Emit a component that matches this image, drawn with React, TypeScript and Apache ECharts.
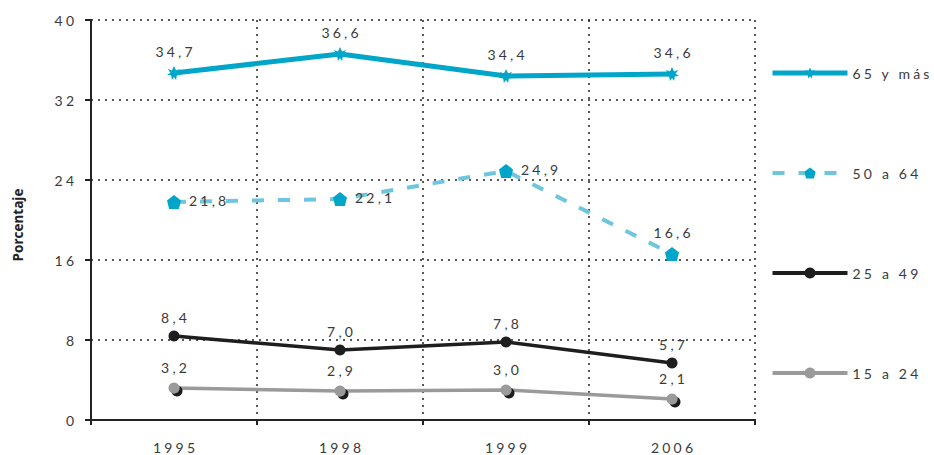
import React, { useEffect, useRef } from "react";
import * as echarts from "echarts";

const categories = ["1995", "1998", "1999", "2006"];
const yTicks = [0, 8, 16, 24, 32, 40];
const s65 = [34.7, 36.6, 34.4, 34.6];
const s50 = [21.8, 22.1, 24.9, 16.6];
const s25 = [8.4, 7.0, 7.8, 5.7];
const s15 = [3.2, 2.9, 3.0, 2.1];
const seriesNames = ["65 y más", "50 a 64", "25 a 49", "15 a 24"];

const fmt = (v: number) => v.toFixed(1).replace(".", ",");
const FONT = "Lato";
const SPACING = 3.2;

const starPath =
  "path://M0,-10 L3,-4 L9,-6 L5,-1 L10,2 L4,3 L3,9 L0,5 L-3,9 L-4,3 L-10,2 L-5,-1 L-9,-6 L-3,-4 Z";
const housePath = "path://M0,-10 L10,-3 L7,8 L-7,8 L-10,-3 Z";

function spaceTexts(root: HTMLElement) {
  const texts = root.querySelectorAll("svg text");
  texts.forEach((t) => {
    const el = t as SVGTextElement;
    if (el.getAttribute("data-spaced")) return;
    if ((el.textContent || "").trim() === "Porcentaje") return;
    el.style.letterSpacing = SPACING + "px";
    const anchor = el.getAttribute("text-anchor") || "start";
    const dx = anchor === "middle" ? SPACING / 2 : anchor === "end" ? SPACING : 0;
    if (dx) el.setAttribute("dx", String(dx));
    el.setAttribute("data-spaced", "1");
  });
}

export default function App() {
  const ref = useRef<HTMLDivElement>(null);
  useEffect(() => {
    if (!ref.current) return;
    const chart = echarts.init(ref.current, null, { renderer: "svg" });
    const label = {
      show: true,
      formatter: (p: any) => fmt(p.value),
      fontFamily: FONT,
      fontSize: 14,
      color: "#3a3a3a",
    };
    const legendWidths = [5, 4, 4, 4];
    chart.setOption({
      animation: false,
      backgroundColor: "#fff",
      grid: { left: 91, right: 179, top: 20, bottom: 35 },
      legend: {
        orient: "vertical",
        left: 770,
        top: 66,
        padding: 0,
        itemWidth: 75,
        itemHeight: 14,
        itemGap: 86,
        textStyle: { fontFamily: FONT, fontSize: 14, color: "#3a3a3a" },
        data: seriesNames.map((n, i) => ({ name: n, lineStyle: { width: legendWidths[i] } })),
      },
      xAxis: {
        type: "category",
        data: categories,
        boundaryGap: true,
        axisLine: { lineStyle: { color: "#222", width: 2 } },
        axisTick: { show: true, length: 5, lineStyle: { color: "#222", width: 2 } },
        axisLabel: {
          margin: 20,
          fontFamily: FONT,
          fontSize: 14,
          color: "#3a3a3a",
        },
        splitLine: {
          show: true,
          lineStyle: { color: "#222", type: [2, 5], width: 1.5 },
        },
      },
      yAxis: {
        type: "value",
        min: yTicks[0],
        max: yTicks[yTicks.length - 1],
        interval: 8,
        name: "Porcentaje",
        nameLocation: "middle",
        nameGap: 66,
        nameTextStyle: {
          fontFamily: "Open Sans",
          fontWeight: "bold",
          fontSize: 13.5,
          color: "#222",
          padding: [0, 10, 0, 0],
        },
        axisLine: { show: true, lineStyle: { color: "#222", width: 2 } },
        axisTick: { show: true, length: 6, lineStyle: { color: "#222", width: 2 } },
        axisLabel: {
          margin: 17,
          fontFamily: FONT,
          fontSize: 14,
          color: "#3a3a3a",
        },
        splitLine: {
          show: true,
          lineStyle: { color: "#222", type: [2, 5], width: 1.5 },
        },
      },
      series: [
        {
          name: seriesNames[0],
          type: "line",
          data: s65,
          symbol: starPath,
          symbolSize: 14,
          lineStyle: { color: "#00a6c9", width: 5 },
          itemStyle: { color: "#00a6c9" },
          label: { ...label, position: "top", distance: 8 },
          z: 4,
        },
        {
          name: seriesNames[1],
          type: "line",
          data: s50.map((v, i) =>
            i === s50.length - 1 ? { value: v, label: { position: "top", distance: 6 } } : v
          ),
          symbol: housePath,
          symbolSize: 14,
          lineStyle: { color: "#6ec6de", width: 4, type: [12, 14] },
          itemStyle: { color: "#00a6c9" },
          label: { ...label, position: "right", distance: 8, offset: [0, -2] },
          z: 3,
        },
        {
          name: seriesNames[2],
          type: "line",
          data: s25,
          symbol: "circle",
          symbolSize: 11,
          lineStyle: { color: "#1e1e1e", width: 3.5 },
          itemStyle: { color: "#1e1e1e" },
          label: { ...label, position: "top", distance: 6 },
          z: 3,
        },
        {
          name: seriesNames[3],
          type: "line",
          data: s15,
          symbol: "circle",
          symbolSize: 11,
          lineStyle: { color: "#9a9a9a", width: 3.5 },
          itemStyle: {
            color: "#9a9a9a",
            shadowColor: "#1e1e1e",
            shadowBlur: 0,
            shadowOffsetX: 3,
            shadowOffsetY: 3,
          },
          label: { ...label, position: "top", distance: 8 },
          z: 3,
        },
      ],
    });
    const el = ref.current;
    const apply = () => spaceTexts(el);
    chart.on("finished", apply);
    apply();
    const raf = requestAnimationFrame(apply);
    return () => {
      cancelAnimationFrame(raf);
      chart.dispose();
    };
  }, []);
  return <div ref={ref} style={{ width: 934, height: 455, position: "absolute", left: 0, top: 0 }} />;
}
